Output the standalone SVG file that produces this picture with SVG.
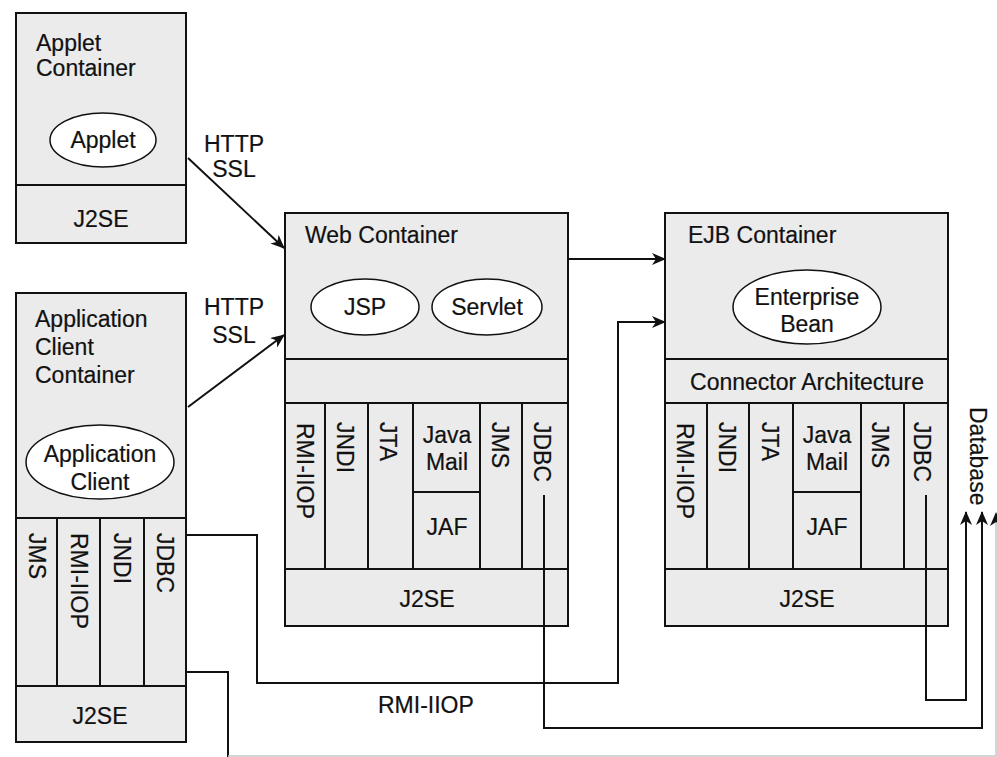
<svg xmlns="http://www.w3.org/2000/svg" width="997" height="757" viewBox="0 0 997 757">
<defs>
<style>
.box{fill:#ebebeb;stroke:#111;stroke-width:2}
.ln{fill:none;stroke:#111;stroke-width:2}
.ell{fill:#fff;stroke:#111;stroke-width:1.5}
.t{font-family:"Liberation Sans",Arial,sans-serif;font-size:23px;fill:#111;stroke:#111;stroke-width:0.2}
.c{text-anchor:middle}
.con{fill:none;stroke:#111;stroke-width:2}
</style>
<marker id="ah" viewBox="0 0 14 12" refX="13" refY="6" markerWidth="14" markerHeight="12" markerUnits="userSpaceOnUse" orient="auto">
<path d="M0,0 L14,6 L0,12 L4,6 z" fill="#111"/>
</marker>
</defs>
<rect width="997" height="757" fill="#fff"/>

<g id="applet-container">
<rect class="box" x="16" y="13" width="170" height="230"/>
<line class="ln" x1="16" y1="185" x2="186" y2="185"/>
<text class="t" x="36" y="51">Applet</text>
<text class="t" x="36" y="76">Container</text>
<ellipse class="ell" cx="103" cy="140" rx="53" ry="27"/>
<text class="t c" x="103" y="148">Applet</text>
<text class="t c" x="101" y="227">J2SE</text>
</g>

<g id="app-client-container">
<rect class="box" x="16" y="293" width="170" height="449"/>
<line class="ln" x1="16" y1="518" x2="186" y2="518"/>
<line class="ln" x1="16" y1="686" x2="186" y2="686"/>
<line class="ln" x1="57" y1="518" x2="57" y2="686"/>
<line class="ln" x1="100" y1="518" x2="100" y2="686"/>
<line class="ln" x1="144" y1="518" x2="144" y2="686"/>
<text class="t" x="35" y="327">Application</text>
<text class="t" x="35" y="355">Client</text>
<text class="t" x="35" y="383">Container</text>
<ellipse class="ell" cx="100" cy="462" rx="74" ry="37"/>
<text class="t c" x="100" y="462">Application</text>
<text class="t c" x="100" y="490">Client</text>
<text class="t" x="29" y="533" transform="rotate(90 29 533)">JMS</text>
<text class="t" x="71" y="533" transform="rotate(90 71 533)">RMI-IIOP</text>
<text class="t" x="114" y="533" transform="rotate(90 114 533)">JNDI</text>
<text class="t" x="157" y="533" transform="rotate(90 157 533)">JDBC</text>
<text class="t c" x="100" y="724">J2SE</text>
</g>

<g id="web-container">
<rect class="box" x="285" y="213" width="283" height="413"/>
<line class="ln" x1="285" y1="359" x2="568" y2="359"/>
<line class="ln" x1="285" y1="403" x2="568" y2="403"/>
<line class="ln" x1="285" y1="569" x2="568" y2="569"/>
<line class="ln" x1="325" y1="403" x2="325" y2="569"/>
<line class="ln" x1="368" y1="403" x2="368" y2="569"/>
<line class="ln" x1="413" y1="403" x2="413" y2="569"/>
<line class="ln" x1="480" y1="403" x2="480" y2="569"/>
<line class="ln" x1="522" y1="403" x2="522" y2="569"/>
<line class="ln" x1="413" y1="492" x2="480" y2="492"/>
<text class="t" x="305" y="243">Web Container</text>
<ellipse class="ell" cx="365" cy="307" rx="54" ry="28"/>
<text class="t c" x="365" y="315">JSP</text>
<ellipse class="ell" cx="487" cy="307" rx="55" ry="28"/>
<text class="t c" x="487" y="315">Servlet</text>
<text class="t" x="297" y="423" transform="rotate(90 297 423)">RMI-IIOP</text>
<text class="t" x="337" y="422" transform="rotate(90 337 422)">JNDI</text>
<text class="t" x="380" y="422" transform="rotate(90 380 422)">JTA</text>
<text class="t c" x="447" y="443">Java</text>
<text class="t c" x="447" y="470">Mail</text>
<text class="t c" x="447" y="535">JAF</text>
<text class="t" x="492" y="422" transform="rotate(90 492 422)">JMS</text>
<text class="t" x="534" y="422" transform="rotate(90 534 422)">JDBC</text>
<text class="t c" x="427" y="607">J2SE</text>
</g>

<g id="ejb-container">
<rect class="box" x="665" y="213" width="283" height="413"/>
<line class="ln" x1="665" y1="359" x2="948" y2="359"/>
<line class="ln" x1="665" y1="403" x2="948" y2="403"/>
<line class="ln" x1="665" y1="569" x2="948" y2="569"/>
<line class="ln" x1="707" y1="403" x2="707" y2="569"/>
<line class="ln" x1="749" y1="403" x2="749" y2="569"/>
<line class="ln" x1="793" y1="403" x2="793" y2="569"/>
<line class="ln" x1="861" y1="403" x2="861" y2="569"/>
<line class="ln" x1="904" y1="403" x2="904" y2="569"/>
<line class="ln" x1="793" y1="492" x2="861" y2="492"/>
<text class="t" x="688" y="243">EJB Container</text>
<ellipse class="ell" cx="807" cy="307" rx="74" ry="37"/>
<text class="t c" x="807" y="305">Enterprise</text>
<text class="t c" x="807" y="332">Bean</text>
<text class="t c" x="807" y="390">Connector Architecture</text>
<text class="t" x="677" y="423" transform="rotate(90 677 423)">RMI-IIOP</text>
<text class="t" x="719" y="422" transform="rotate(90 719 422)">JNDI</text>
<text class="t" x="762" y="422" transform="rotate(90 762 422)">JTA</text>
<text class="t c" x="827" y="443">Java</text>
<text class="t c" x="827" y="470">Mail</text>
<text class="t c" x="827" y="535">JAF</text>
<text class="t" x="872" y="422" transform="rotate(90 872 422)">JMS</text>
<text class="t" x="914" y="422" transform="rotate(90 914 422)">JDBC</text>
<text class="t c" x="807" y="607">J2SE</text>
</g>

<g id="database">
<text class="t" x="970" y="407" transform="rotate(90 970 407)">Database</text>
</g>

<g id="connectors">
<line class="con" x1="188" y1="158" x2="284" y2="248" marker-end="url(#ah)"/>
<line class="con" x1="188" y1="407" x2="284" y2="335" marker-end="url(#ah)"/>
<line class="con" x1="568" y1="259" x2="665" y2="259" marker-end="url(#ah)"/>
<polyline class="con" points="187,535 257,535 257,683 618,683 618,322 665,322" marker-end="url(#ah)"/>
<polyline class="con" points="544,495 544,728 982,728 982,512" marker-end="url(#ah)"/>
<polyline class="con" points="926,495 926,700 966,700 966,512" marker-end="url(#ah)"/>
<polyline class="con" points="187,672 228,672 228,757"/>
<polyline points="228,756 996,756 996,522" fill="none" stroke="#c8c8c8" stroke-width="1.5"/>
<path d="M996,512 L1002,526 L996,522 L990,526 z" fill="#111"/>
<text class="t c" x="234" y="152">HTTP</text>
<text class="t c" x="234" y="177">SSL</text>
<text class="t c" x="234" y="315">HTTP</text>
<text class="t c" x="234" y="343">SSL</text>
<text class="t" x="378" y="713">RMI-IIOP</text>
</g>
</svg>
